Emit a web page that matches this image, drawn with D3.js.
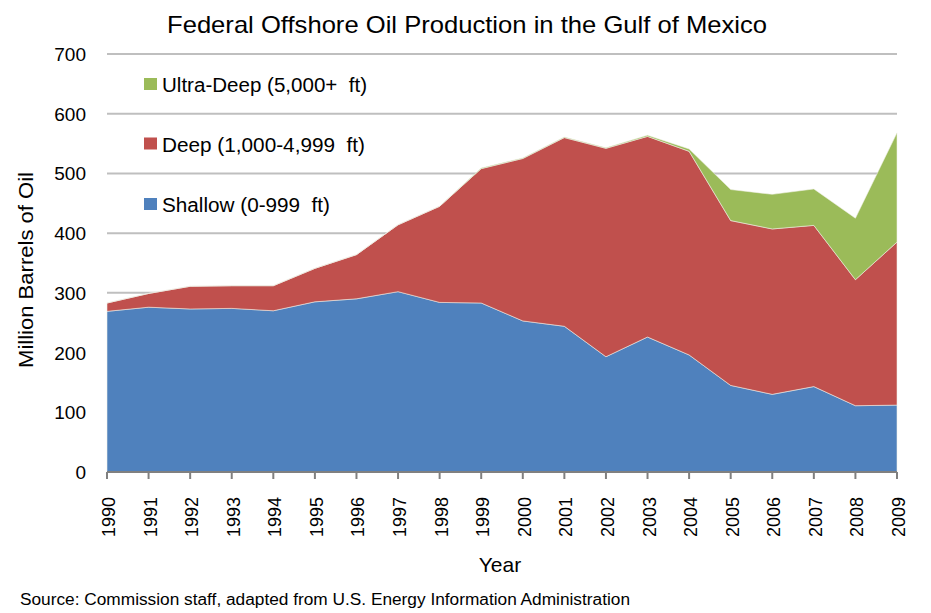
<!DOCTYPE html>
<html><head><meta charset="utf-8">
<script src="https://cdn.jsdelivr.net/npm/d3@7"></script>
<style>body{margin:0;background:#fff}svg{display:block}text{font-family:"Liberation Sans",Arial,sans-serif;fill:#000}</style>
</head><body>
<script>
const years = [1990,1991,1992,1993,1994,1995,1996,1997,1998,1999,2000,2001,2002,2003,2004,2005,2006,2007,2008,2009];
const shallow = [269,276,273,274,270,285,290,302,284,283,253,244,193,226,196,145,130,143,111,112];
const deep = [14,23,38,38,42,56,74,112,161,225,272,316,349,336,341,276,277,270,211,273];
const ultraDeep = [0,0,0,0,0,0,0,0,0,1,1,1,1,2,4,52,58,61,103,183];
const yTicks = [0,100,200,300,400,500,600,700];
const seriesNames = ["Shallow (0-999  ft)","Deep (1,000-4,999  ft)","Ultra-Deep (5,000+  ft)"];
const colors = ["#4F81BD","#C0504D","#9BBB59"];

const W=931,H=613;
const svg=d3.select("body").append("svg").attr("width",W).attr("height",H);
const x=d3.scaleLinear().domain([1990,2009]).range([107,897]);
const y=d3.scaleLinear().domain([0,700]).range([472,54]);

// gridlines
svg.append("g").selectAll("line").data(yTicks.filter(d=>d>0)).join("line")
  .attr("x1",107).attr("x2",897).attr("y1",d=>y(d)).attr("y2",d=>y(d))
  .attr("stroke","#BFBFBF").attr("stroke-width",2);

const table=years.map((yr,i)=>({year:yr,s:shallow[i],d:deep[i],u:ultraDeep[i]}));
const stack=d3.stack().keys(["s","d","u"])(table);
const area=d3.area().x(d=>x(d.data.year)).y0(d=>y(d[0])).y1(d=>y(d[1]));
svg.append("g").selectAll("path").data(stack).join("path")
  .attr("d",area).attr("fill",(d,i)=>colors[i])
  .attr("stroke","#f0f0e8").attr("stroke-width",0.7).attr("stroke-opacity",0.8);

// y tick labels
svg.append("g").selectAll("text").data(yTicks).join("text")
  .attr("x",86).attr("y",d=>y(d)+7).attr("text-anchor","end")
  .style("font-size","19px").text(d=>d);

// x axis
svg.append("line").attr("x1",107).attr("x2",897).attr("y1",472).attr("y2",472).attr("stroke","#808080").attr("stroke-width",2);
svg.append("g").selectAll("line").data(years).join("line")
  .attr("x1",d=>x(d)).attr("x2",d=>x(d)).attr("y1",472).attr("y2",479)
  .attr("stroke","#808080").attr("stroke-width",2);
svg.append("g").selectAll("text").data(years).join("text")
  .attr("transform",d=>`translate(${x(d)+8},497) rotate(-90)`)
  .attr("text-anchor","end").style("font-size","18px").text(d=>d);

// titles
svg.append("text").attr("x",467).attr("y",33).attr("text-anchor","middle")
  .style("font-size","24px").attr("textLength",600).attr("lengthAdjust","spacingAndGlyphs")
  .text("Federal Offshore Oil Production in the Gulf of Mexico");
svg.append("text").attr("transform","translate(33,270) rotate(-90)").attr("text-anchor","middle")
  .style("font-size","21px").attr("textLength",196).attr("lengthAdjust","spacingAndGlyphs")
  .text("Million Barrels of Oil");
svg.append("text").attr("x",500).attr("y",572).attr("text-anchor","middle")
  .style("font-size","21px").text("Year");
svg.append("text").attr("x",20).attr("y",605).style("font-size","16px")
  .attr("textLength",610).attr("lengthAdjust","spacingAndGlyphs")
  .text("Source: Commission staff, adapted from U.S. Energy Information Administration");

// legend
const leg=[{n:seriesNames[2],c:colors[2],yy:78,w:205},{n:seriesNames[1],c:colors[1],yy:137.5,w:203},{n:seriesNames[0],c:colors[0],yy:198,w:168}];
const lg=svg.append("g").selectAll("g").data(leg).join("g");
lg.append("rect").attr("x",144).attr("y",d=>d.yy).attr("width",13).attr("height",12).attr("fill",d=>d.c);
lg.append("text").attr("x",162).attr("y",d=>d.yy+14).style("font-size","20px").style("white-space","pre")
  .attr("textLength",d=>d.w).attr("lengthAdjust","spacingAndGlyphs").text(d=>d.n);
</script>
</body></html>
